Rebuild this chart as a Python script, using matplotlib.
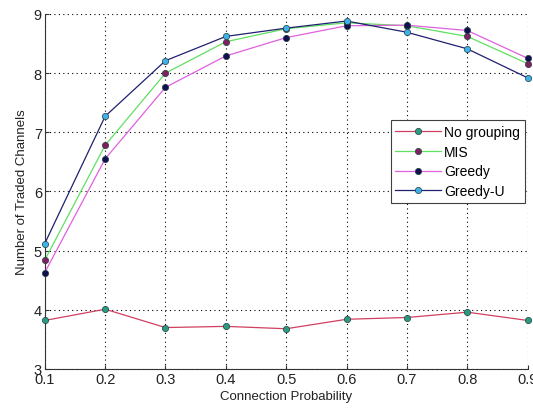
import matplotlib
matplotlib.use("Agg")
import matplotlib.pyplot as plt

plt.rcParams['font.family'] = ['Liberation Sans', 'DejaVu Sans']

x = [0.1, 0.2, 0.3, 0.4, 0.5, 0.6, 0.7, 0.8, 0.9]
no_grouping = [3.82, 4.01, 3.70, 3.72, 3.68, 3.84, 3.87, 3.96, 3.82]
mis = [4.84, 6.78, 8.00, 8.53, 8.75, 8.85, 8.80, 8.62, 8.16]
greedy = [4.63, 6.55, 7.76, 8.29, 8.60, 8.80, 8.81, 8.72, 8.25]
greedy_u = [5.12, 7.27, 8.21, 8.62, 8.76, 8.88, 8.69, 8.41, 7.92]

fig = plt.figure(figsize=(5.33, 4.10), dpi=100)
ax = fig.add_axes([0.084, 0.0976, 0.906, 0.866])

series = [
    ("No grouping", no_grouping, "#d04060", "#2a9a80"),
    ("MIS", mis, "#60e060", "#802060"),
    ("Greedy", greedy, "#e060e0", "#101050"),
    ("Greedy-U", greedy_u, "#202070", "#40b0e8"),
]
for label, y, lc, mc in series:
    ax.plot(x, y, '-', color=lc, lw=0.9, marker='o', ms=4.5,
            markerfacecolor=mc, markeredgecolor='#204040', markeredgewidth=0.5,
            label=label, clip_on=False, zorder=3)

ax.set_xlim(0.1, 0.9)
ax.set_ylim(3, 9)
ax.set_xticks(x)
ax.set_xticklabels(["0.1", "0.2", "0.3", "0.4", "0.5", "0.6", "0.7", "0.8", "0.9"])
ax.set_yticks([3, 4, 5, 6, 7, 8, 9])
ax.tick_params(labelsize=10.5, direction='in', length=3, pad=2, colors='#333333', labelcolor='#222222')
ax.grid(True, linestyle=(0, (1, 3)), color='black', lw=0.8)
ax.spines['top'].set_visible(False)
ax.spines['right'].set_visible(False)
ax.spines['left'].set_color('#333333')
ax.spines['bottom'].set_color('#333333')
ax.set_xlabel("Connection Probability", fontsize=9.5, labelpad=3, color='#222222')
ax.set_ylabel("Number of Traded Channels", fontsize=9.5, labelpad=4, color='#222222')

leg = ax.legend(loc='upper right', bbox_to_anchor=(0.994, 0.70), fontsize=10,
                fancybox=False, framealpha=1, edgecolor='#404040',
                handlelength=3.3, handletextpad=0.2, borderpad=0.35, labelspacing=0.4,
                borderaxespad=0)
leg.get_frame().set_linewidth(0.8)

fig.savefig("out.png", dpi=100)
